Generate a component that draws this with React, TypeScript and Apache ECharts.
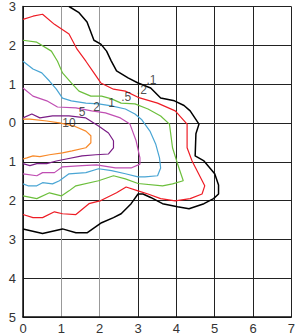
import React, { useEffect, useRef } from "react";
import * as echarts from "echarts";

// Contour levels and their colours
const levels = ["0.1", "0.2", "0.5", "1", "2", "5", "10"];
const levelColors = ["#000000", "#ee1c25", "#6cbf3c", "#49a5d4", "#c04fb3", "#7a1d86", "#f88a2a"];

// Contour paths [x, y]
const c01: number[][] = [
  [1.2, 3.0], [1.45, 2.85], [1.67, 2.6], [1.85, 2.13], [2.03, 2.03], [2.18, 1.85], [2.3, 1.6],
  [2.44, 1.34], [2.74, 1.16], [3.0, 1.03], [3.33, 0.9], [3.59, 0.64], [3.95, 0.57], [4.2, 0.45],
  [4.36, 0.31], [4.59, -0.03], [4.51, -0.28], [4.49, -0.85], [4.72, -0.98], [5.0, -1.31],
  [5.1, -1.6], [5.1, -1.83], [4.97, -1.95], [4.72, -2.08], [4.33, -2.21], [4.03, -2.16],
  [3.64, -2.08], [3.33, -1.92], [3.13, -1.83], [3.0, -1.83], [2.82, -2.08], [2.56, -2.34],
  [2.36, -2.44], [2.05, -2.57], [1.67, -2.83], [1.38, -2.83], [1.03, -2.73], [0.51, -2.85],
  [0.0, -2.73],
];
const c02: number[][] = [
  [0.0, 2.67], [0.26, 2.75], [0.51, 2.8], [0.82, 2.54], [1.2, 2.29], [1.41, 1.9], [1.64, 1.59],
  [1.85, 1.29], [2.03, 1.03], [2.36, 0.87], [2.67, 0.82], [3.0, 0.66], [3.51, 0.51], [3.97, 0.31],
  [4.28, -0.03], [4.28, -0.64], [4.41, -0.98], [4.74, -1.62], [4.67, -1.83], [4.36, -1.95],
  [3.97, -2.01], [3.59, -1.95], [3.26, -1.83], [3.0, -1.75], [2.69, -1.65], [2.44, -1.8],
  [2.03, -2.0], [1.72, -2.08], [1.38, -2.36], [1.03, -2.34], [0.82, -2.29], [0.51, -2.44],
  [0.26, -2.44], [0.0, -2.36],
];
const c05: number[][] = [
  [0.0, 2.13], [0.36, 2.08], [0.74, 1.85], [0.9, 1.59], [1.03, 1.29], [1.26, 1.03], [1.46, 0.82],
  [1.77, 0.69], [2.05, 0.69], [2.31, 0.62], [2.56, 0.51], [2.92, 0.49], [3.26, 0.36], [3.59, 0.18],
  [3.82, -0.03], [3.9, -0.64], [4.03, -1.05], [4.18, -1.49], [3.9, -1.57], [3.64, -1.62],
  [3.0, -1.56], [2.67, -1.44], [2.36, -1.36], [1.97, -1.49], [1.38, -1.62], [1.2, -1.75],
  [1.0, -1.88], [0.69, -1.8], [0.36, -1.95], [0.0, -1.88],
];
const c1: number[][] = [
  [0.0, 1.59], [0.26, 1.39], [0.49, 1.29], [0.69, 1.08], [0.87, 0.87], [1.03, 0.64], [1.26, 0.57],
  [1.64, 0.51], [1.97, 0.49], [2.31, 0.44], [2.67, 0.36], [2.92, 0.23], [3.1, 0.08], [3.31, -0.21],
  [3.46, -0.54], [3.56, -0.9], [3.59, -1.16], [3.51, -1.36], [3.18, -1.39], [3.0, -1.39],
  [2.67, -1.31], [2.31, -1.23], [1.97, -1.18], [1.64, -1.28], [1.2, -1.31], [0.95, -1.49],
  [0.77, -1.57], [0.51, -1.54], [0.36, -1.62], [0.13, -1.62], [0.0, -1.57],
];
const c2: number[][] = [
  [0.0, 0.9], [0.26, 0.69], [0.62, 0.57], [0.9, 0.41], [1.38, 0.39], [1.79, 0.31], [2.15, 0.26],
  [2.54, 0.13], [2.79, -0.03], [2.95, -0.46], [3.05, -0.9], [3.05, -1.06], [2.82, -1.16],
  [2.41, -1.16], [1.92, -1.08], [1.54, -1.1], [1.03, -1.13], [0.82, -1.28], [0.51, -1.28],
  [0.36, -1.36], [0.0, -1.31],
];
const c5: number[][] = [
  [0.0, 0.13], [0.23, 0.23], [0.44, 0.13], [0.77, 0.18], [1.2, 0.18], [1.64, 0.13], [1.97, -0.08],
  [2.23, -0.26], [2.36, -0.46], [2.36, -0.64], [2.23, -0.8], [1.9, -0.82], [1.54, -0.85],
  [1.13, -0.93], [0.87, -0.98], [0.62, -1.05], [0.36, -1.05], [0.18, -1.1], [0.0, -1.05],
];
const c10: number[][] = [
  [0.0, 0.1], [0.18, 0.1], [0.62, 0.05], [0.95, 0.0], [1.33, -0.08], [1.64, -0.21], [1.77, -0.33],
  [1.77, -0.51], [1.64, -0.64], [1.28, -0.72], [1.03, -0.77], [0.69, -0.82], [0.44, -0.87],
  [0.26, -0.85], [0.1, -0.9], [0.0, -0.93],
];
const contours = [c01, c02, c05, c1, c2, c5, c10];

// Contour labels
const labelTexts = [".1", ".2", ".5", "1", "2", "5", "10"];
const labelX = [3.35, 3.1, 2.69, 2.31, 1.92, 1.54, 1.2];
const labelY = [1.1, 0.84, 0.67, 0.52, 0.42, 0.27, 0.0];

// Axis ticks
const xTicks = { min: 0, max: 7, interval: 1 };
const yTicks = { min: -5, max: 3, interval: 1 };

export default function App() {
  const ref = useRef<HTMLDivElement>(null);
  useEffect(() => {
    if (!ref.current) return;
    const chart = echarts.init(ref.current, null, { renderer: "svg" });
    const lineSeries = contours.map((pts, i) => ({
      name: levels[i],
      type: "line",
      data: pts,
      showSymbol: false,
      symbol: "none",
      smooth: false,
      lineStyle: { color: levelColors[i], width: i === 0 ? 1.5 : 1.2 },
      z: 3,
    }));
    const labelSeries = {
      type: "scatter",
      symbolSize: 0,
      data: labelTexts.map((t, i) => [labelX[i], labelY[i], t]),
      label: {
        show: true,
        position: "inside",
        formatter: (p: any) => p.value[2],
        color: "#222",
        fontSize: 12,
        fontFamily: "Liberation Sans, Arial, sans-serif",
      },
      z: 5,
    };
    chart.setOption({
      animation: false,
      grid: { left: 23, right: 2, top: 5, bottom: 18, containLabel: false },
      xAxis: {
        type: "value",
        min: xTicks.min,
        max: xTicks.max,
        interval: xTicks.interval,
        axisLine: { show: true, onZero: false, lineStyle: { color: "#111", width: 1.5 } },
        axisTick: { show: false },
        axisLabel: {
          color: "#333",
          fontSize: 13,
          fontFamily: "Liberation Sans, Arial, sans-serif",
          margin: 5,
        },
        splitLine: {
          show: true,
          lineStyle: {
            color: ["#222", "#999", "#999", "#222", "#222", "#222", "#222", "#222"],
            width: 1,
          },
        },
      },
      yAxis: {
        type: "value",
        min: yTicks.min,
        max: yTicks.max,
        interval: yTicks.interval,
        axisLine: { show: true, onZero: false, lineStyle: { color: "#111", width: 1.5 } },
        axisTick: { show: false },
        axisLabel: {
          color: "#333",
          fontSize: 13,
          fontFamily: "Liberation Sans, Arial, sans-serif",
          margin: 7,
          formatter: (v: number) => String(Math.abs(v)),
        },
        splitLine: { show: true, lineStyle: { color: "#222", width: 1 } },
      },
      series: [...lineSeries, labelSeries],
    });
    return () => chart.dispose();
  }, []);
  return (
    <div
      ref={ref}
      style={{ position: "fixed", left: 0, top: 0, width: 298, height: 335, background: "#fff" }}
    />
  );
}
